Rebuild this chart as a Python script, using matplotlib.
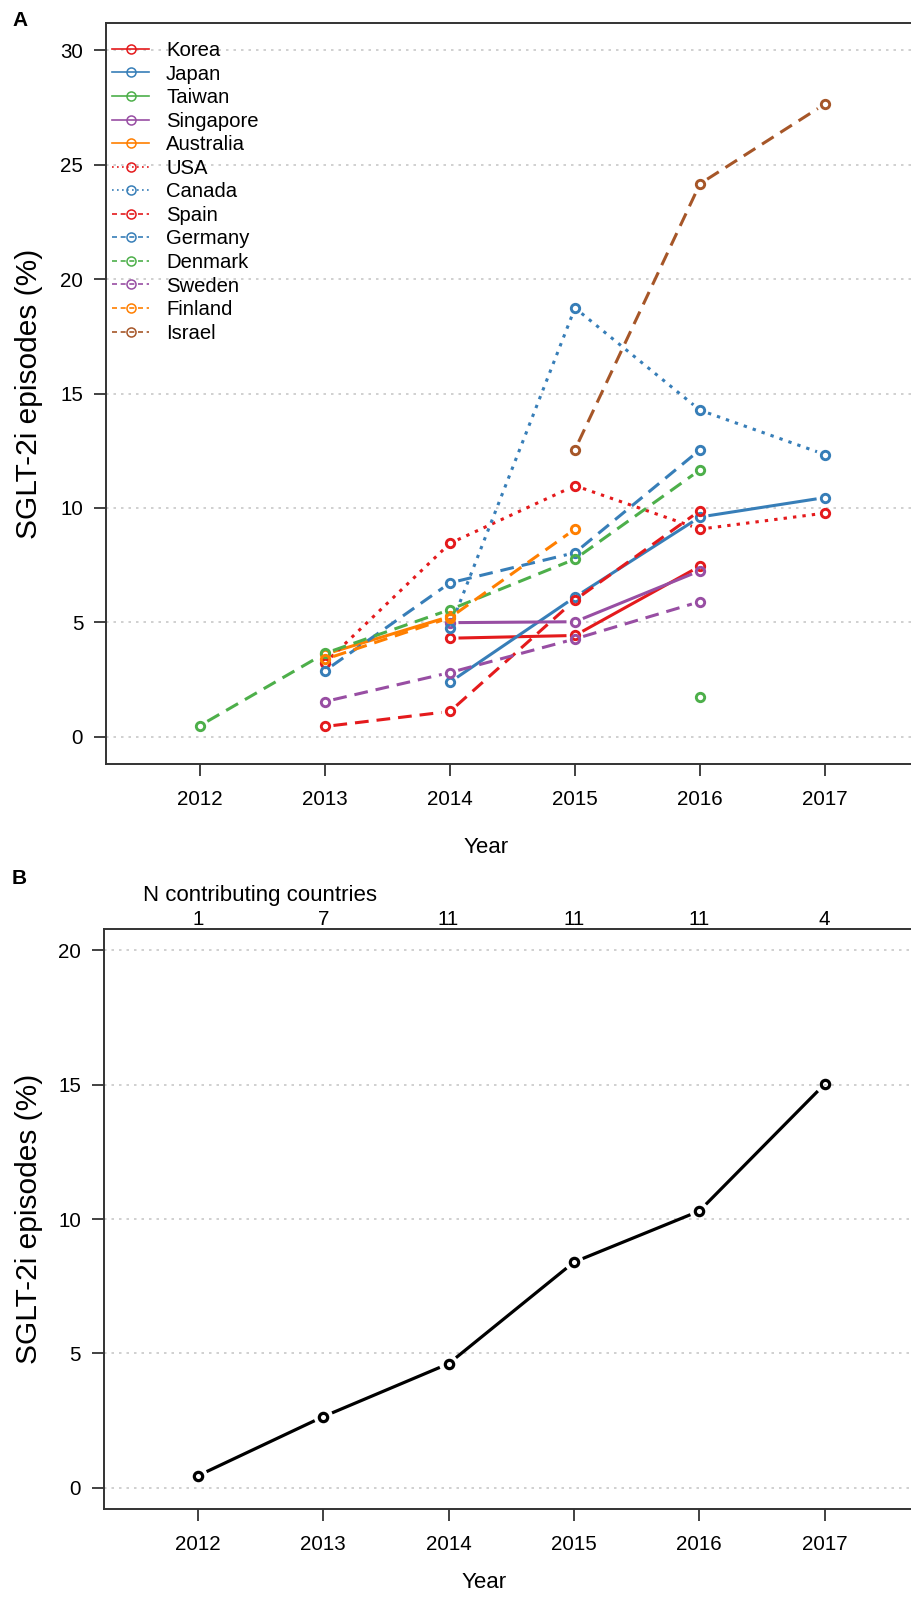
import numpy as np
import matplotlib
matplotlib.use("Agg")
import matplotlib.pyplot as plt
from matplotlib.lines import Line2D
from matplotlib.transforms import blended_transform_factory

plt.rcParams['font.family'] = ['Liberation Sans', 'DejaVu Sans']

# ---------------- data ----------------
years = [2012, 2013, 2014, 2015, 2016, 2017]
N = None

countries = ['Korea', 'Japan', 'Taiwan', 'Singapore', 'Australia', 'USA',
             'Canada', 'Spain', 'Germany', 'Denmark', 'Sweden', 'Finland', 'Israel']

korea     = [N, N, 4.30, 4.42, 7.45, N]
japan     = [N, N, 2.38, 6.10, 9.60, 10.45]
taiwan    = [N, N, N, N, 1.72, N]
singapore = [N, N, 4.98, 5.02, 7.25, N]
australia = [N, 3.60, 5.25, N, N, N]
usa       = [N, 3.22, 8.45, 10.97, 9.07, 9.77]
canada    = [N, N, 4.76, 18.74, 14.27, 12.33]
spain     = [N, 0.44, 1.10, 5.97, 9.88, N]
germany   = [N, 2.88, 6.72, 8.04, 12.54, N]
denmark   = [0.48, 3.64, 5.55, 7.76, 11.66, N]
sweden    = [N, 1.53, 2.80, 4.27, 5.90, N]
finland   = [N, 3.38, 5.20, 9.07, N, N]
israel    = [N, N, N, 12.55, 24.17, 27.66]

series = [korea, japan, taiwan, singapore, australia, usa, canada,
          spain, germany, denmark, sweden, finland, israel]

overall = [0.45, 2.65, 4.62, 8.40, 10.30, 15.02]
n_countries = [1, 7, 11, 11, 11, 4]

# Set1 colours + line types per country
red, blue, green, purple, orange, brown = ('#E41A1C', '#377EB8', '#4DAF4A',
                                           '#984EA3', '#FF7F00', '#A65628')
colors = [red, blue, green, purple, orange, red, blue,
          red, blue, green, purple, orange, brown]
styles = ['solid'] * 5 + ['dotted'] * 2 + ['dashed'] * 6
dash_map = {'solid': '-', 'dotted': (0, (1.1, 2.0)), 'dashed': (0, (4.5, 2.6))}

TICK_FS = 14.8
LAB_FS = 16
YLAB_FS = 21.5

fig = plt.figure(figsize=(9.11, 16.03), dpi=100)
W, H = 911.0, 1603.0

axA = fig.add_axes([106.25 / W, 1 - 764 / H, 812.5 / W, 741 / H])
axB = fig.add_axes([104.0 / W, 1 - 1509.3 / H, 814.5 / W, 580.3 / H])


def style_axes(ax, yticks, ylim):
    ax.set_xlim(2011.25, 2017.75)
    ax.set_ylim(*ylim)
    ax.set_xticks(years)
    ax.set_yticks(yticks)
    ax.tick_params(axis='both', direction='out', length=8.6, width=1.3,
                   color='#333333', labelsize=TICK_FS, pad=8)
    ax.tick_params(axis='x', pad=10)
    ax.spines['right'].set_visible(False)
    for s in ['left', 'top', 'bottom']:
        ax.spines[s].set_linewidth(1.4)
        ax.spines[s].set_color('#333333')
    for yt in yticks:
        ax.axhline(yt, color='#c8c8c8', lw=1.2, ls=(0, (1.5, 3)), zorder=0)


def gapped_line(ax, xs, ys, gap, **kw):
    # draw segments between points, leaving a gap round each marker
    pts = ax.transData.transform(np.column_stack([xs, ys]))
    inv = ax.transData.inverted()
    for p0, p1 in zip(pts[:-1], pts[1:]):
        d = p1 - p0
        L = np.hypot(*d)
        if L <= 2 * gap:
            continue
        u = d / L
        seg = inv.transform([p0 + u * gap, p1 - u * gap])
        ax.plot(seg[:, 0], seg[:, 1], solid_capstyle='butt',
                dash_capstyle='butt', **kw)


# ---------------- panel A ----------------
style_axes(axA, [0, 5, 10, 15, 20, 25, 30], (-1.2, 31.2))

for vals, c, st in zip(series, colors, styles):
    xs = [yr for yr, v in zip(years, vals) if v is not None]
    ys = [v for v in vals if v is not None]
    gapped_line(axA, xs, ys, 8.5, color=c, lw=2.2, ls=dash_map[st])
    axA.plot(xs, ys, 'o', ms=6.0, mfc='none', mec=c, mew=2.1, zorder=3)

handles = [Line2D([0], [0], color=c, lw=1.2, ls=dash_map[st] if st == 'solid'
                  else ((0, (1, 2)) if st == 'dotted' else (0, (3, 2.2))),
                  marker='o', ms=6.5, mfc='none', mec=c, mew=1.1)
           for c, st in zip(colors, styles)]
axA.legend(handles, countries, loc='upper left', bbox_to_anchor=(0.0, 0.984),
           frameon=False, fontsize=14.6, handlelength=1.8, handletextpad=0.85,
           labelspacing=0.225, borderaxespad=0.2, borderpad=0.1)

axA.text(0.467, -0.113, 'Year', transform=axA.transAxes, ha='center',
         va='center', fontsize=LAB_FS)
fig.text(29 / W, 1 - 394 / H, 'SGLT-2i episodes (%)', rotation=90,
         ha='center', va='center', fontsize=YLAB_FS)
fig.text(12 / W, 1 - 20 / H, 'A', fontsize=15, fontweight='bold',
         ha='left', va='center')

# ---------------- panel B ----------------
style_axes(axB, [0, 5, 10, 15, 20], (-0.8, 20.8))
gapped_line(axB, years, overall, 9.5, color='black', lw=2.3)
axB.plot(years, overall, 'o', ms=6.0, mfc='none', mec='black', mew=2.3, zorder=3)

trans = blended_transform_factory(axB.transData, axB.transAxes)
for yr, n in zip(years, n_countries):
    axB.text(yr, 1.017, str(n), transform=trans, ha='center', va='center',
             fontsize=TICK_FS)
axB.text(2011.56, 1.058, 'N contributing countries', transform=trans,
         ha='left', va='center', fontsize=16)

axB.text(0.467, -0.127, 'Year', transform=axB.transAxes, ha='center',
         va='center', fontsize=LAB_FS)
fig.text(29 / W, 1 - 1219 / H, 'SGLT-2i episodes (%)', rotation=90,
         ha='center', va='center', fontsize=YLAB_FS)
fig.text(12 / W, 1 - 878 / H, 'B', fontsize=15, fontweight='bold',
         ha='left', va='center')

fig.savefig('out.png', dpi=100, facecolor='white')
